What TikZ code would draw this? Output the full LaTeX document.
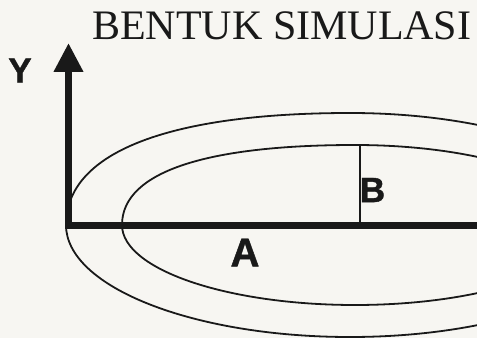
\documentclass[tikz,border=0pt]{standalone}
\usepackage{fontspec}
\setmainfont{Liberation Serif}
\newfontfamily\lsans[FakeBold=1.2]{Liberation Sans Bold}
\usetikzlibrary{arrows.meta}
\definecolor{ink}{RGB}{25,25,25}
\definecolor{paper}{RGB}{247,246,242}
\begin{document}
\begin{tikzpicture}[x=1pt,y=1pt,
  curve/.style={draw=ink,line width=1.8pt},
  axisline/.style={draw=ink,line width=7pt,-{Triangle[width=28pt,length=29pt]}},
  lbl/.style={inner sep=0pt,text=ink,font=\lsans\fontsize{35}{35}\selectfont}]
\useasboundingbox (0,0) rectangle (477,338);
\fill[paper] (0,0) rectangle (477,338);
\clip (0,0) rectangle (477,338);
% named points
\coordinate (O) at (68.5,113);
\coordinate (E) at (490,113);
\coordinate (Ytip) at (68.5,295);
\coordinate (Btop) at (360,193);
\coordinate (Bbot) at (360,113);
% outer ring
\draw[curve] (66,113) .. controls (66,188) and (175,225) .. (350,225)
  arc[start angle=90,end angle=-180,x radius=284,y radius=112];
% inner ring
\draw[curve] (122,113) .. controls (122,168) and (212,193) .. (355,193)
  arc[start angle=90,end angle=-180,x radius=233,y radius=80];
% axes
\draw[axisline] (E) -- (O) -- (Ytip);
% B segment
\draw[ink,line width=1.3pt] (Btop) -- (Bbot);
% texts
\node[anchor=base west,inner sep=0pt,text=ink,font=\fontsize{42}{42}\selectfont] (title) at (92,298) {BENTUK SIMULASI};
\node[lbl] (ylab) at (20,267.5) {Y};
\node[lbl,font=\lsans\fontsize{40}{40}\selectfont] (alab) at (245,85.5) {A};
\node[lbl] (blab) at (372.5,148) {B};
\end{tikzpicture}
\end{document}
